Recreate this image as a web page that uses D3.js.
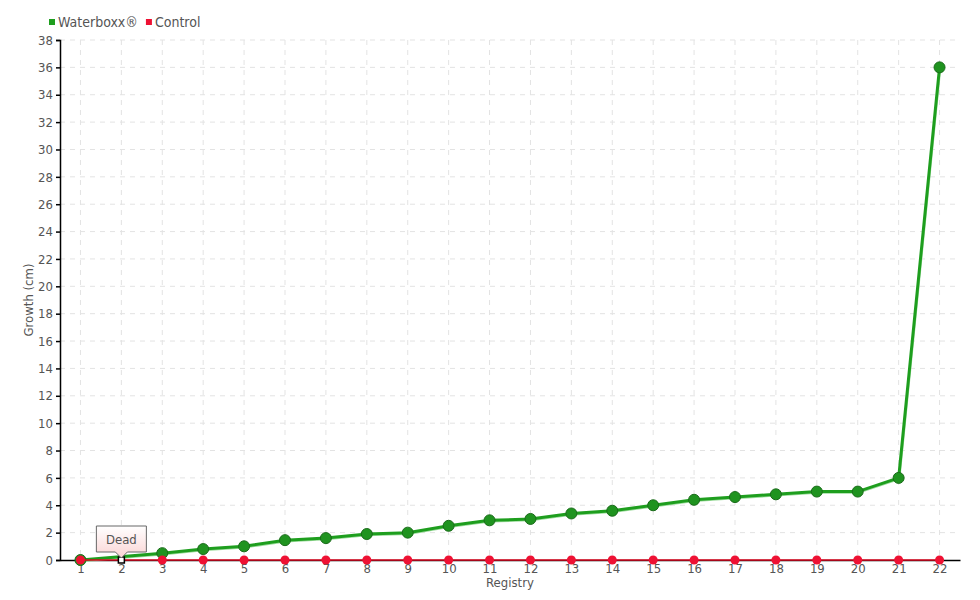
<!DOCTYPE html>
<html>
<head>
<meta charset="utf-8">
<script src="https://cdn.jsdelivr.net/npm/d3@7"></script>
<style>
  body { margin: 0; background: #fff; }
  text { font-family: "DejaVu Sans Condensed", "DejaVu Sans", sans-serif; font-stretch: condensed; fill: #555; }
</style>
</head>
<body>
<div id="chart"></div>
<script>
// data
var registry = ["1","2","3","4","5","6","7","8","9","10","11","12","13","14","15","16","17","18","19","20","21","22"];
var waterboxx = [0, null, 0.5, 0.8, 1.0, 1.45, 1.6, 1.9, 2.0, 2.5, 2.9, 3.0, 3.4, 3.6, 4.0, 4.4, 4.6, 4.8, 5.0, 5.0, 6.0, 36.0];
var control = [0,0,0,0,0,0,0,0,0,0,0,0,0,0,0,0,0,0,0,0,0,0];
var yTicks = d3.range(0, 39, 2);
var seriesNames = ["Waterboxx®", "Control"];
var seriesColors = ["#1e9e1e", "#ee1133"];
var deadIndex = 1; // registry 2 in control

var W = 980, H = 600;
var margin = {top: 40, right: 20, bottom: 40, left: 60},
    width = W - margin.left - margin.right,
    height = H - margin.top - margin.bottom;

var svg = d3.select("#chart").append("svg")
  .attr("width", W).attr("height", H);

var defs = svg.append("defs");
var grad = defs.append("linearGradient").attr("id", "tipGrad")
  .attr("x1", 0).attr("y1", 0).attr("x2", 0).attr("y2", 1);
grad.append("stop").attr("offset", "0%").attr("stop-color", "#ffffff");
grad.append("stop").attr("offset", "100%").attr("stop-color", "#fbd4d4");

var g = svg.append("g")
  .attr("transform", "translate(" + margin.left + "," + margin.top + ")");

var x = d3.scalePoint().domain(registry).range([0, width]).padding(0.5);
var y = d3.scaleLinear().domain([0, 38]).range([height, 0]);

// grid
g.append("g").selectAll("line").data(yTicks.slice(1)).enter().append("line")
  .attr("x1", 0).attr("x2", width)
  .attr("y1", function(d){ return y(d); }).attr("y2", function(d){ return y(d); })
  .attr("stroke", "#e3e3e3").attr("stroke-dasharray", "5,5");
g.append("g").selectAll("line").data(registry).enter().append("line")
  .attr("x1", function(d){ return x(d); }).attr("x2", function(d){ return x(d); })
  .attr("y1", 0).attr("y2", height)
  .attr("stroke", "#e3e3e3").attr("stroke-dasharray", "5,5");

// axes
var yAxis = g.append("g")
  .call(d3.axisLeft(y).tickValues(yTicks).tickSize(4).tickPadding(3));
yAxis.select(".domain").attr("stroke", "#000").attr("stroke-width", 1.5);
yAxis.selectAll(".tick line").attr("stroke", "#000").attr("stroke-width", 1.5);
yAxis.selectAll("text").style("font-size", "13px").attr("fill", "#555");

var xAxis = g.append("g")
  .attr("transform", "translate(0," + height + ")")
  .call(d3.axisBottom(x).tickSize(0).tickPadding(4));
xAxis.select(".domain").attr("stroke", "#000").attr("stroke-width", 1.5);
xAxis.selectAll("text").style("font-size", "13px").attr("fill", "#555");

// axis titles
g.append("text")
  .attr("transform", "translate(-27," + (height / 2) + ") rotate(-90)")
  .attr("text-anchor", "middle")
  .style("font-size", "13px")
  .text("Growth (cm)");
g.append("text")
  .attr("x", width / 2).attr("y", height + 27)
  .attr("text-anchor", "middle")
  .style("font-size", "13px")
  .text("Registry");

// waterboxx line
var wbData = registry.map(function(r, i){ return {r: r, v: waterboxx[i]}; })
  .filter(function(d){ return d.v !== null; });
var line = d3.line()
  .x(function(d){ return x(d.r); })
  .y(function(d){ return y(d.v); });

g.append("path").datum(wbData)
  .attr("d", line)
  .attr("transform", "translate(0.5,1)")
  .attr("fill", "none").attr("stroke", "#9ddc9d").attr("stroke-width", 2.5);
g.append("path").datum(wbData)
  .attr("d", line)
  .attr("fill", "none").attr("stroke", seriesColors[0]).attr("stroke-width", 3);

g.append("g").selectAll("circle").data(wbData).enter().append("circle")
  .attr("cx", function(d){ return x(d.r); })
  .attr("cy", function(d){ return y(d.v); })
  .attr("r", 5.5)
  .attr("fill", "#1f931f").attr("stroke", "#1a6b1a").attr("stroke-width", 1);

// control line
var ctData = registry.map(function(r, i){ return {r: r, v: control[i]}; });
g.append("path").datum(ctData)
  .attr("d", line)
  .attr("fill", "none").attr("stroke", "#dd0a22").attr("stroke-width", 1.5);
g.append("g").selectAll("circle").data(ctData.filter(function(d, i){ return i !== deadIndex; }))
  .enter().append("circle")
  .attr("cx", function(d){ return x(d.r); })
  .attr("cy", function(d){ return y(d.v); })
  .attr("r", 4.5)
  .attr("fill", seriesColors[1]);

// dead marker
var dead = ctData[deadIndex];
var dx = x(dead.r), dy = y(dead.v);
g.append("rect")
  .attr("x", dx - 3).attr("y", dy - 3).attr("width", 6).attr("height", 6)
  .attr("fill", "#fff").attr("stroke", "#000").attr("stroke-width", 1.5);

// tooltip "Dead"
var tw = 50, th = 26, tip = g.append("g").attr("transform", "translate(" + dx + "," + (dy - 8) + ")");
tip.append("path")
  .attr("d", "M" + (-tw/2) + "," + (-th) + " h" + tw + " v" + th + " h" + (-(tw/2 - 6)) +
             " l-6,6 l-6,-6 h" + (-(tw/2 - 6)) + " Z")
  .attr("fill", "url(#tipGrad)").attr("stroke", "#666").attr("stroke-width", 1);
tip.append("text")
  .attr("x", 0).attr("y", -th / 2 + 5)
  .attr("text-anchor", "middle")
  .style("font-size", "13px")
  .text("Dead");

// legend
var legend = svg.append("g").attr("transform", "translate(49,22)");
var lx = 0;
seriesNames.forEach(function(name, i){
  var item = legend.append("g").attr("transform", "translate(" + lx + ",0)");
  item.append("rect").attr("x", 0).attr("y", -3).attr("width", 6).attr("height", 6)
    .attr("fill", seriesColors[i]);
  var t = item.append("text").attr("x", 9).attr("y", 5)
    .style("font-size", "14px").text(name);
  lx += 9 + t.node().getComputedTextLength() + 8;
});
</script>
</body>
</html>
